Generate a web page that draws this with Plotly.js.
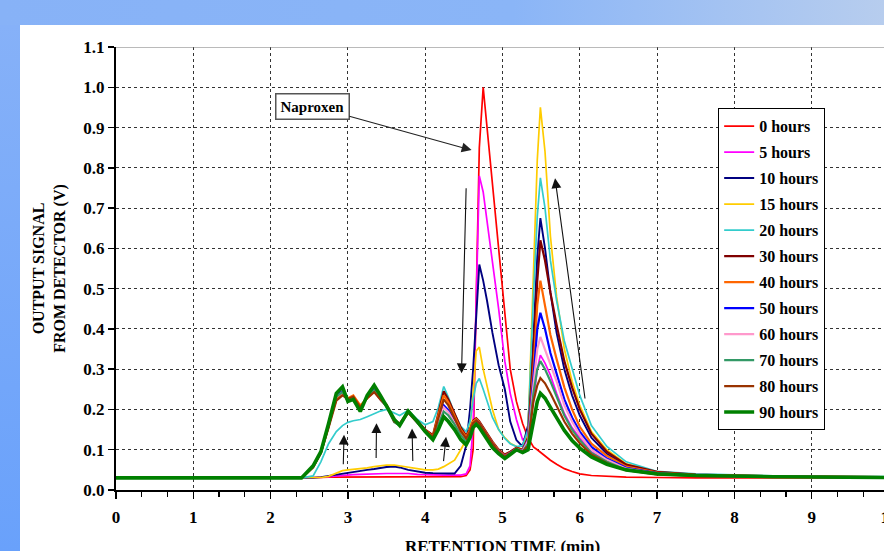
<!DOCTYPE html>
<html>
<head>
<meta charset="utf-8">
<script src="https://cdn.plot.ly/plotly-3.0.1.min.js"></script>
<style>
  html, body { margin: 0; padding: 0; width: 884px; height: 551px; overflow: hidden; }
  body { position: relative; background: linear-gradient(to right, #87B2F7 0%, #8AB5F7 58%, #B7CDEE 100%); }
  #strip { position: absolute; left: 0; top: 25px; width: 20px; height: 526px;
           background: linear-gradient(to bottom, #86B1F8, #69A1FB); }
  #chart { position: absolute; left: 20px; top: 25px; width: 880px; height: 545px; background: #fff; }
</style>
</head>
<body>
<div id="strip"></div>
<div id="chart"></div>
<script>
// Retention time grid (min), shared by every chromatogram
const timeMin = [0, 2.0, 2.4, 2.55, 2.65, 2.75, 2.85, 2.93, 3.0, 3.07,
  3.16, 3.25, 3.34, 3.42, 3.5, 3.6, 3.67, 3.78, 3.9, 4.0,
  4.1, 4.17, 4.24, 4.3, 4.38, 4.46, 4.53, 4.58, 4.62, 4.66,
  4.7, 4.75, 4.8, 4.87, 4.95, 5.03, 5.1, 5.18, 5.26, 5.33,
  5.4, 5.45, 5.49, 5.55, 5.62, 5.7, 5.8, 5.9, 6.0, 6.15,
  6.35, 6.6, 7.0, 7.5, 8.5, 10];

// Detector output (V) for each irradiation time
const h0 = [0.03,0.03,0.03,0.03,0.031,0.032,0.032,0.032,0.033,0.033,
  0.033,0.033,0.033,0.033,0.033,0.033,0.033,0.033,0.033,0.033,
  0.033,0.033,0.033,0.033,0.033,0.033,0.036,0.05,0.1,0.5,
  0.85,1.0,0.9,0.76,0.6,0.44,0.3,0.22,0.165,0.13,
  0.107,0.1,0.094,0.083,0.074,0.064,0.053,0.046,0.04,0.036,
  0.034,0.032,0.031,0.03,0.03,0.03];
const h5 = [0.03,0.03,0.03,0.03,0.031,0.033,0.035,0.036,0.037,0.038,
  0.039,0.04,0.041,0.041,0.041,0.041,0.041,0.041,0.039,0.038,
  0.037,0.037,0.037,0.037,0.037,0.037,0.04,0.06,0.16,0.48,
  0.78,0.74,0.67,0.56,0.45,0.32,0.24,0.175,0.125,0.135,
  0.22,0.3,0.335,0.315,0.285,0.24,0.19,0.155,0.129,0.095,
  0.072,0.052,0.04,0.036,0.033,0.032];
const h10 = [0.03,0.03,0.03,0.03,0.032,0.035,0.039,0.042,0.044,0.046,
  0.048,0.05,0.052,0.055,0.057,0.058,0.056,0.05,0.046,0.043,
  0.042,0.041,0.041,0.041,0.041,0.06,0.11,0.2,0.3,0.43,
  0.56,0.52,0.47,0.39,0.31,0.25,0.17,0.124,0.108,0.16,
  0.38,0.58,0.675,0.6,0.49,0.39,0.3,0.235,0.185,0.13,
  0.09,0.06,0.044,0.038,0.034,0.032];
const h15 = [0.03,0.03,0.03,0.03,0.031,0.034,0.042,0.048,0.05,0.051,
  0.053,0.055,0.058,0.06,0.062,0.062,0.06,0.055,0.052,0.05,
  0.05,0.052,0.058,0.065,0.074,0.1,0.125,0.157,0.24,0.345,
  0.355,0.3,0.26,0.2,0.15,0.13,0.116,0.107,0.1,0.14,
  0.56,0.82,0.95,0.84,0.63,0.48,0.35,0.27,0.21,0.145,
  0.1,0.065,0.045,0.038,0.034,0.032];
const h20 = [0.03,0.03,0.03,0.035,0.07,0.115,0.145,0.16,0.168,0.172,
  0.175,0.182,0.19,0.196,0.2,0.19,0.185,0.198,0.175,0.162,
  0.17,0.205,0.257,0.23,0.19,0.158,0.145,0.17,0.225,0.265,
  0.277,0.25,0.22,0.18,0.15,0.128,0.115,0.108,0.11,0.15,
  0.48,0.68,0.775,0.7,0.57,0.47,0.37,0.3,0.235,0.16,
  0.108,0.07,0.046,0.04,0.035,0.033];
const h30 = [0.03,0.03,0.03,0.058,0.092,0.158,0.23,0.245,0.225,0.232,
  0.205,0.23,0.248,0.228,0.212,0.175,0.165,0.195,0.172,0.15,
  0.136,0.19,0.245,0.225,0.19,0.155,0.135,0.15,0.172,0.178,
  0.17,0.155,0.14,0.12,0.1,0.088,0.095,0.105,0.1,0.13,
  0.35,0.52,0.62,0.57,0.49,0.41,0.32,0.255,0.2,0.14,
  0.095,0.063,0.045,0.038,0.034,0.032];
const h40 = [0.03,0.03,0.03,0.058,0.095,0.16,0.225,0.238,0.228,0.235,
  0.21,0.228,0.245,0.226,0.21,0.172,0.163,0.193,0.17,0.148,
  0.134,0.185,0.235,0.218,0.185,0.15,0.132,0.148,0.17,0.176,
  0.168,0.153,0.138,0.118,0.098,0.086,0.093,0.103,0.098,0.125,
  0.3,0.46,0.52,0.46,0.385,0.325,0.255,0.2,0.157,0.115,
  0.085,0.058,0.043,0.037,0.034,0.032];
const h50 = [0.03,0.03,0.03,0.058,0.095,0.162,0.235,0.245,0.222,0.228,
  0.2,0.232,0.248,0.226,0.208,0.17,0.162,0.194,0.168,0.146,
  0.13,0.17,0.21,0.198,0.172,0.142,0.126,0.142,0.165,0.172,
  0.165,0.15,0.135,0.115,0.096,0.084,0.092,0.102,0.097,0.125,
  0.28,0.4,0.44,0.4,0.34,0.29,0.225,0.18,0.145,0.107,
  0.078,0.055,0.042,0.036,0.033,0.031];
const h60 = [0.03,0.03,0.03,0.058,0.094,0.16,0.232,0.242,0.222,0.228,
  0.2,0.23,0.245,0.225,0.207,0.17,0.161,0.193,0.167,0.145,
  0.13,0.166,0.205,0.193,0.168,0.14,0.124,0.14,0.163,0.17,
  0.163,0.148,0.133,0.113,0.095,0.083,0.091,0.101,0.096,0.122,
  0.26,0.35,0.38,0.35,0.315,0.27,0.21,0.17,0.137,0.1,
  0.075,0.053,0.041,0.036,0.033,0.031];
const h70 = [0.03,0.03,0.03,0.058,0.094,0.16,0.232,0.243,0.22,0.226,
  0.198,0.232,0.247,0.226,0.207,0.168,0.16,0.193,0.167,0.145,
  0.128,0.16,0.195,0.185,0.163,0.136,0.12,0.137,0.16,0.168,
  0.16,0.145,0.13,0.11,0.093,0.081,0.09,0.1,0.095,0.115,
  0.24,0.3,0.32,0.3,0.27,0.23,0.185,0.15,0.124,0.092,
  0.07,0.05,0.04,0.035,0.033,0.031];
const h80 = [0.03,0.03,0.03,0.056,0.092,0.155,0.222,0.235,0.226,0.232,
  0.205,0.228,0.243,0.225,0.209,0.17,0.162,0.192,0.168,0.147,
  0.132,0.18,0.225,0.21,0.18,0.146,0.128,0.145,0.166,0.172,
  0.165,0.15,0.135,0.115,0.095,0.083,0.091,0.101,0.095,0.11,
  0.22,0.26,0.278,0.265,0.24,0.208,0.17,0.14,0.116,0.088,
  0.067,0.049,0.039,0.035,0.033,0.031];
const h90 = [0.03,0.03,0.03,0.06,0.095,0.165,0.24,0.256,0.22,0.225,
  0.195,0.235,0.26,0.235,0.21,0.175,0.16,0.196,0.17,0.145,
  0.125,0.15,0.182,0.17,0.15,0.125,0.112,0.13,0.155,0.163,
  0.155,0.14,0.125,0.105,0.09,0.078,0.088,0.1,0.093,0.1,
  0.17,0.22,0.24,0.228,0.205,0.178,0.148,0.123,0.104,0.082,
  0.064,0.05,0.04,0.036,0.033,0.031];

const seriesLabels = ['0 hours', '5 hours', '10 hours', '15 hours', '20 hours', '30 hours',
  '40 hours', '50 hours', '60 hours', '70 hours', '80 hours', '90 hours'];
const seriesValues = [h0, h5, h10, h15, h20, h30, h40, h50, h60, h70, h80, h90];

// Line styling per series
const lineColors = ['#FF0000', '#FF00FF', '#000080', '#FFCC00', '#33CCCC', '#800000',
  '#FF6600', '#0000FF', '#FF99CC', '#339966', '#993300', '#008000'];
const lineWidths = [1.7, 1.7, 1.9, 1.7, 1.7, 2.2, 2.2, 2.2, 2.2, 2.2, 2.2, 3.6];

const serif = 'Liberation Serif, Times New Roman, serif';

const traces = seriesLabels.map((label, i) => ({
  type: 'scatter',
  mode: 'lines',
  name: label,
  legendgroup: 'g' + i,
  x: timeMin,
  y: seriesValues[i],
  line: { color: lineColors[i], width: lineWidths[i] },
  hoverinfo: 'skip'
}));

// Trend arrows (tail at ax/ay, head at x/y)
const arrowStyle = { text: '', showarrow: true, arrowhead: 2, arrowsize: 1.8, arrowwidth: 1.1,
  arrowcolor: '#111', xref: 'x', yref: 'y', axref: 'x', ayref: 'y' };
const arrows = [
  { x: 4.47, y: 0.29, ax: 4.53, ay: 0.753 },
  { x: 5.68, y: 0.774, ax: 6.07, ay: 0.2235 },
  { x: 2.95, y: 0.137, ax: 2.94, ay: 0.06 },
  { x: 3.37, y: 0.166, ax: 3.365, ay: 0.076 },
  { x: 3.83, y: 0.153, ax: 3.84, ay: 0.068 },
  { x: 4.27, y: 0.132, ax: 4.235, ay: 0.068 }
].map(a => Object.assign({}, arrowStyle, a));

const naproxenLabel = {
  x: 4.6, y: 0.844, xref: 'x', yref: 'y',
  text: 'Naproxen', showarrow: true, ax: -159, ay: -44,
  arrowhead: 2, arrowsize: 1.8, arrowwidth: 1.1, arrowcolor: '#222',
  bgcolor: '#fff', bordercolor: '#555', borderwidth: 1.5, borderpad: 4,
  font: { family: serif, size: 15, color: '#000', weight: 700 }
};

const layout = {
  width: 880, height: 545,
  margin: { l: 96, r: 11, t: 22, b: 80 },
  paper_bgcolor: '#fff', plot_bgcolor: '#fff',
  font: { family: serif, size: 15, color: '#000', weight: 700 },
  showlegend: true,
  legend: {
    x: 0.779, y: 0.862, xanchor: 'left', yanchor: 'top',
    bgcolor: '#fff', bordercolor: '#000', borderwidth: 1,
    font: { family: serif, size: 16, color: '#000', weight: 700 },
    tracegroupgap: 2.2, traceorder: 'grouped'
  },
  xaxis: {
    range: [0, 10], dtick: 1, tick0: 0,
    showline: true, linecolor: '#000', linewidth: 2,
    ticks: 'outside', ticklen: 7, tickwidth: 1.5, tickcolor: '#000',
    minor: { dtick: 1 / 3, ticks: 'outside', ticklen: 5, tickwidth: 1.2, tickcolor: '#000', showgrid: false },
    showgrid: true, gridcolor: '#333', gridwidth: 1, griddash: '3px,3px',
    zeroline: false,
    ticklabelstandoff: 4,
    tickfont: { family: serif, size: 17, color: '#000', weight: 700 },
    title: { text: 'RETENTION TIME (min)', font: { family: serif, size: 17, color: '#000', weight: 700 }, standoff: 14 }
  },
  yaxis: {
    range: [0, 1.1], dtick: 0.1, tick0: 0, tickformat: '.1f',
    showline: true, linecolor: '#000', linewidth: 2,
    ticks: 'outside', ticklen: 6, tickwidth: 1.5, tickcolor: '#000',
    showgrid: true, gridcolor: '#333', gridwidth: 1, griddash: '3px,3px',
    zeroline: false,
    tickfont: { family: serif, size: 17, color: '#000', weight: 700 },
    title: { text: 'OUTPUT SIGNAL<br>FROM DETECTOR (V)', font: { family: serif, size: 16, color: '#000', weight: 700 }, standoff: 14 }
  },
  shapes: [
    { type: 'line', xref: 'paper', yref: 'y', x0: 0, x1: 1, y0: 1.1, y1: 1.1,
      line: { color: '#777', width: 1.2 } }
  ],
  annotations: [naproxenLabel].concat(arrows)
};

Plotly.newPlot('chart', traces, layout, { staticPlot: true, displayModeBar: false });
</script>
</body>
</html>
